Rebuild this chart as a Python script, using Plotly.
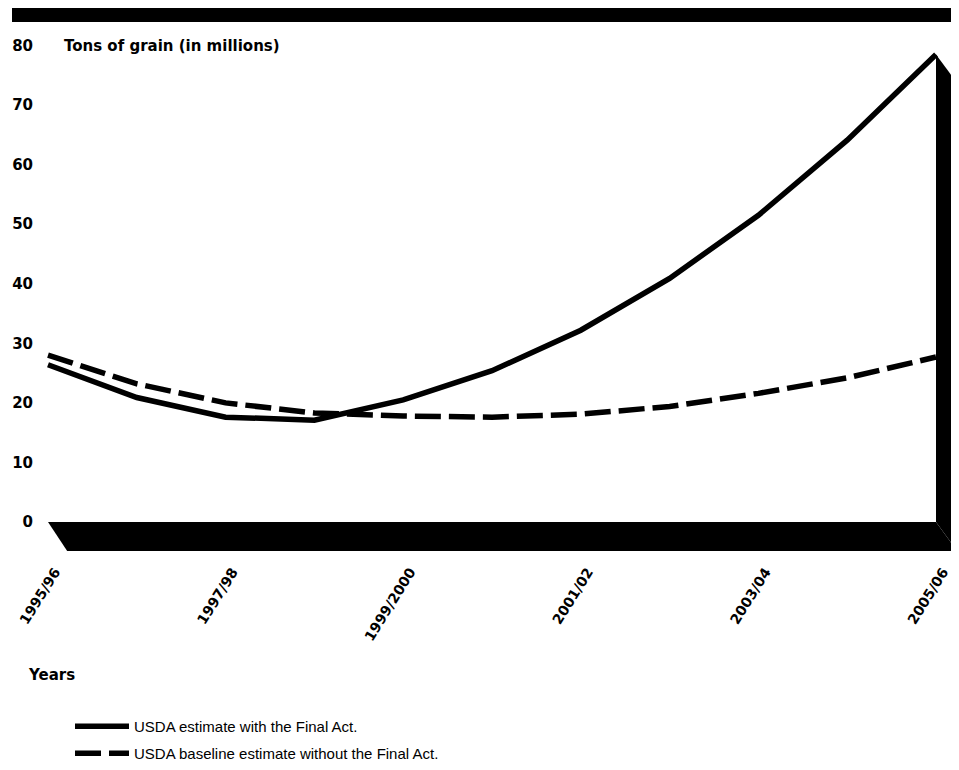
import plotly.graph_objects as go

seasons = ["1995/96", "1996/97", "1997/98", "1998/99", "1999/2000", "2000/01",
           "2001/02", "2002/03", "2003/04", "2004/05", "2005/06"]
with_final_act = [26.4, 20.9, 17.6, 17.1, 20.5, 25.4, 32.2, 40.9, 51.5, 64.1, 78.5]
baseline = [28.0, 23.2, 20.0, 18.3, 17.8, 17.6, 18.1, 19.4, 21.6, 24.2, 27.7]
tick_labels = ["1995/96", "1997/98", "1999/2000", "2001/02", "2003/04", "2005/06"]
y_ticks = [0, 10, 20, 30, 40, 50, 60, 70, 80]

x_idx = list(range(len(seasons)))
tick_pos = [seasons.index(t) for t in tick_labels]

# the page body has an 8px margin: figure pixel = page pixel - OFF
OFF = 8
W, H = 959 - OFF, 770 - OFF
ML, MR, MT, MB = 32, 0, 22, 210
px_per_year = 88.8
px_per_unit = 5.956
x0_px, y0_px = 48 - OFF, 522 - OFF
plot_w = W - ML - MR
plot_h = H - MT - MB
x_range = [(ML - x0_px) / px_per_year, (ML + plot_w - x0_px) / px_per_year]
y_range = [-(MT + plot_h - y0_px) / px_per_unit, (y0_px - MT) / px_per_unit]


def px(page_x):
    return (page_x - OFF - ML) / plot_w


def py(page_y):
    return (MT + plot_h - (page_y - OFF)) / plot_h


bold = dict(family="DejaVu Sans", size=15, color="black", weight="bold")
legend_font = dict(family="Liberation Sans", size=15, color="black")

fig = go.Figure()
fig.add_trace(go.Scatter(x=x_idx, y=with_final_act, mode="lines",
                         name="USDA estimate with the Final Act.", legend="legend",
                         line=dict(color="black", width=5.5), cliponaxis=False))
fig.add_trace(go.Scatter(x=x_idx, y=baseline, mode="lines",
                         name="USDA baseline estimate without the Final Act.", legend="legend2",
                         line=dict(color="black", width=5.5, dash="26px,8px"), cliponaxis=False))

# 3D floor and right wall
last = len(seasons) - 1
dx, dy = 0.24, -4.87
fig.add_shape(type="path", xref="x", yref="y", layer="below",
              path=f"M 0,0 L {last},0 L {last+dx},{dy} L {dx*0.9},{dy} Z",
              fillcolor="black", line=dict(width=0))
fig.add_shape(type="path", xref="x", yref="y", layer="below",
              path=f"M {last},{with_final_act[-1]} L {last+dx},{with_final_act[-1]+dy} L {last+dx},{dy} L {last},0 Z",
              fillcolor="black", line=dict(width=0))
# top black bar
fig.add_shape(type="rect", xref="paper", yref="paper",
              x0=px(12), x1=px(952), y0=py(22), y1=py(4),
              fillcolor="black", line=dict(width=0))

fig.add_annotation(text="Tons of grain (in millions)", xref="paper", yref="y",
                   x=px(62), y=80, xanchor="left", yanchor="middle",
                   showarrow=False, font=bold)
fig.add_annotation(text="Years", xref="paper", yref="paper",
                   x=px(26), y=py(675), xanchor="left", yanchor="middle",
                   showarrow=False, font=bold)

fig.update_layout(
    width=W, height=H,
    margin=dict(l=ML, r=MR, t=MT, b=MB),
    paper_bgcolor="white", plot_bgcolor="white",
    showlegend=True,
    legend=dict(x=px(70), y=py(710), xanchor="left", yanchor="top", itemwidth=54,
                font=legend_font, bgcolor="rgba(0,0,0,0)"),
    legend2=dict(x=px(70), y=py(737), xanchor="left", yanchor="top", itemwidth=54,
                 font=legend_font, bgcolor="rgba(0,0,0,0)"),
    xaxis=dict(range=x_range, tickmode="array", tickvals=tick_pos, ticktext=tick_labels,
               tickangle=-58, ticklabelshift=7, showgrid=False, zeroline=False,
               showline=False, ticks="",
               tickfont=dict(family="DejaVu Sans", size=14, color="black", weight="bold")),
    yaxis=dict(range=y_range, tickmode="array", tickvals=y_ticks,
               showgrid=False, zeroline=False, showline=False, ticks="",
               ticklabelstandoff=6, tickfont=bold),
)

fig.write_html("out.html")
